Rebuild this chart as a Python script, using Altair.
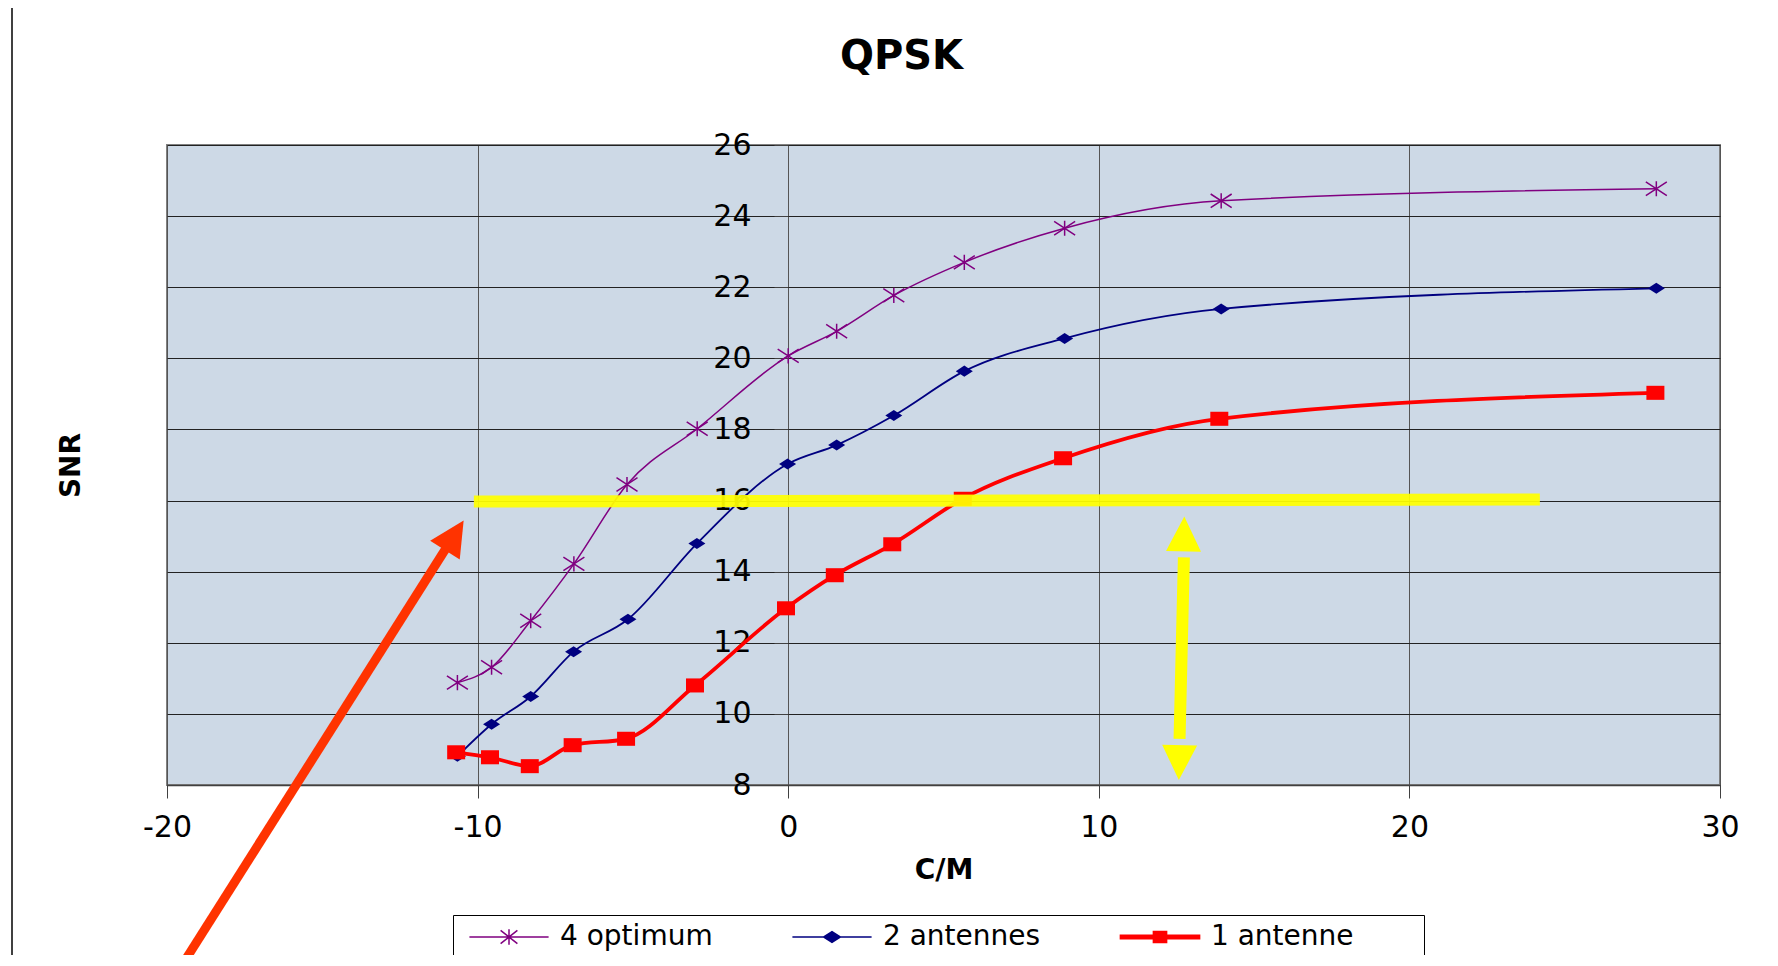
import altair as alt
import pandas as pd

# ---------------- data ----------------
series_names = ["4 optimum", "2 antennes", "1 antenne"]
series_colors = ["#800080", "#000080", "#FF0000"]

x_opt = [-10.65, -9.55, -8.29, -6.90, -5.19, -2.93, 0.00, 1.56, 3.40, 5.67, 8.90, 13.94, 27.95]
y_opt = [10.88, 11.31, 12.62, 14.22, 16.45, 18.02, 20.07, 20.76, 21.77, 22.70, 23.66, 24.43, 24.77]

x_ant2 = [-10.65, -9.55, -8.29, -6.91, -5.16, -2.94, -0.02, 1.56, 3.40, 5.67, 8.90, 13.94, 27.95]
y_ant2 = [8.81, 9.71, 10.49, 11.75, 12.66, 14.79, 17.03, 17.56, 18.39, 19.64, 20.56, 21.39, 21.97]

x_ant1 = [-10.69, -9.60, -8.32, -6.94, -5.22, -3.00, -0.07, 1.50, 3.35, 5.62, 8.85, 13.88, 27.92]
y_ant1 = [8.92, 8.78, 8.53, 9.12, 9.30, 10.80, 12.97, 13.90, 14.77, 16.05, 17.19, 18.30, 19.03]

x_ticks = [-20, -10, 0, 10, 20, 30]
y_ticks = [8, 10, 12, 14, 16, 18, 20, 22, 24, 26]

# annotations (data units)
yellow_bar_x = [-10.12, 24.2]
yellow_bar_y = [15.97, 16.03]
yellow_shaft_x = [12.74, 12.60]
yellow_shaft_y = [14.40, 9.30]
yellow_head_up_x = [12.74]
yellow_head_up_y = [15.06]
yellow_head_down_x = [12.59]
yellow_head_down_y = [8.63]
red_shaft_x = [-19.83, -10.95]
red_shaft_y = [2.5, 14.75]
red_head_x = [-10.75]
red_head_y = [15.02]

# ---------------- styles ----------------
FONT = "DejaVu Sans"
star_path = "M-1,-0.65L1,0.65M-1,0.65L1,-0.65M0,-0.72V0.72"
diamond_path = "M0,-0.65L1,0L0,0.65L-1,0Z"
square_path = "M-1,-0.78H1V0.78H-1Z"
head_path = "M0,-1L1,1L-1,1Z"
legend_shapes = [
    "M-6.6,0H6.6M-1.4,-1.1L1.4,1.1M-1.4,1.1L1.4,-1.1M0,-1.3V1.3",
    "M-6.6,0H6.6M0,-0.9L1.4,0L0,0.9L-1.4,0Z",
    "M-6.6,-0.3H6.6V0.3H-6.6ZM-1.1,-0.9H1.1V0.9H-1.1Z",
]

X = alt.X(
    "x:Q",
    scale=alt.Scale(domain=[-20, 30], nice=False, zero=False),
    axis=alt.Axis(
        values=x_ticks, title="C/M", grid=True, gridColor="#555555", gridWidth=1,
        domain=True, domainColor="#404040", domainWidth=1.5,
        ticks=True, tickColor="#404040", tickSize=13, tickWidth=1,
        labelFont=FONT, labelFontSize=30, labelColor="black", labelPadding=14,
        labelAngle=0, labelFlush=False, labelOverlap=False,
        labelExpr="datum.value < 0 ? '-' + abs(datum.value) : '' + datum.value",
        titleFont=FONT, titleFontSize=28, titleFontWeight="bold", titleColor="black",
        titlePadding=14,
    ),
)
Y = alt.Y(
    "y:Q",
    scale=alt.Scale(domain=[8, 26], nice=False, zero=False),
    axis=alt.Axis(
        values=y_ticks, title="SNR", offset=-621, grid=True, gridColor="#222222", gridWidth=1,
        domain=False, ticks=True, tickColor="#404040", tickSize=14, tickWidth=1,
        labelFont=FONT, labelFontSize=30, labelColor="black", labelPadding=23,
        labelBaseline="middle", labelFlush=False, labelOverlap=False,
        titleFont=FONT, titleFontSize=28, titleFontWeight="bold", titleColor="black",
        titleX=-717, titleY=320, titleAngle=270, titleAlign="center", titleBaseline="middle",
    ),
)

layers = []
series = [
    (x_opt, y_opt, series_colors[0], 1.5, star_path, 441, False),
    (x_ant2, y_ant2, series_colors[1], 1.8, diamond_path, 289, True),
    (x_ant1, y_ant1, series_colors[2], 3.8, square_path, 324, True),
]
all_rows = []
for name, (xs, ys, col, lw, shp, msz, fil) in zip(series_names, series):
    d = pd.DataFrame({"x": xs, "y": ys})
    all_rows.append(d.assign(series=name))
    layers.append(
        alt.Chart(d).mark_line(color=col, strokeWidth=lw, interpolate="monotone").encode(x=X, y=Y)
    )
    layers.append(
        alt.Chart(d).mark_point(shape=shp, size=msz, filled=fil, color=col, strokeWidth=1.5, opacity=1).encode(x=X, y=Y)
    )

df_all = pd.concat(all_rows, ignore_index=True)
pad_text = "\u00a0" * 7 + "\u200b"
leg = alt.Legend(
    title=None, orient="none", legendX=286, legendY=770, direction="horizontal",
    symbolSize=144, symbolStrokeWidth=1.5, symbolOffset=34, labelOffset=37,
    symbolFillColor="#000000",
    columnPadding=9, labelFont=FONT, labelFontSize=28, labelColor="black", labelLimit=1000,
    padding=8, strokeColor="black", fillColor="white",
    labelExpr="datum.label + '" + pad_text + "'",
)
legend_layer = alt.Chart(df_all).mark_point(filled=True, opacity=0, size=144, strokeWidth=1.5).encode(
    x=X, y=Y,
    shape=alt.Shape("series:N", scale=alt.Scale(domain=series_names, range=legend_shapes), legend=leg),
    fill=alt.Fill("series:N", scale=alt.Scale(domain=series_names, range=series_colors), legend=leg),
    stroke=alt.Stroke("series:N", scale=alt.Scale(domain=series_names, range=series_colors), legend=leg),
)
layers.append(legend_layer)

YEL = "#FFFF00"
layers.append(
    alt.Chart(pd.DataFrame({"x": yellow_bar_x, "y": yellow_bar_y}))
    .mark_line(color=YEL, strokeWidth=12, opacity=0.93, strokeCap="butt").encode(x=X, y=Y)
)
layers.append(
    alt.Chart(pd.DataFrame({"x": yellow_shaft_x, "y": yellow_shaft_y}))
    .mark_line(color=YEL, strokeWidth=12, strokeCap="butt").encode(x=X, y=Y)
)
layers.append(
    alt.Chart(pd.DataFrame({"x": yellow_head_up_x, "y": yellow_head_up_y}))
    .mark_point(shape=head_path, size=1225, filled=True, color=YEL, opacity=1, angle=1.3).encode(x=X, y=Y)
)
layers.append(
    alt.Chart(pd.DataFrame({"x": yellow_head_down_x, "y": yellow_head_down_y}))
    .mark_point(shape=head_path, size=1225, filled=True, color=YEL, opacity=1, angle=181.3).encode(x=X, y=Y)
)
RED = "#FF3300"
layers.append(
    alt.Chart(pd.DataFrame({"x": red_shaft_x, "y": red_shaft_y}))
    .mark_line(color=RED, strokeWidth=9, strokeCap="butt").encode(x=X, y=Y)
)
layers.append(
    alt.Chart(pd.DataFrame({"x": red_head_x, "y": red_head_y}))
    .mark_point(shape=head_path, size=1225, filled=True, color=RED, opacity=1, angle=32.3).encode(x=X, y=Y)
)
# chart-area border on the left
layers.append(
    alt.Chart(pd.DataFrame({"b": [0]})).mark_rule(color="black", strokeWidth=1.5)
    .encode(x=alt.value(-155), y=alt.value(-137), y2=alt.value(813))
)

chart = (
    alt.layer(*layers)
    .properties(
        width=1553, height=640,
        title=alt.TitleParams(
            text="QPSK", font=FONT, fontSize=40, fontWeight="bold", color="black",
            anchor="middle", baseline="alphabetic", offset=-102, dx=-42,
        ),
        autosize=alt.AutoSizeParams(type="none"),
        padding={"left": 159, "top": 137, "right": 50, "bottom": 170},
    )
    .configure(background="white")
    .configure_view(fill="#CDD9E6", stroke="#808080", strokeWidth=2)
)

chart.save("out.html", embed_options={"renderer": "svg", "actions": False})
